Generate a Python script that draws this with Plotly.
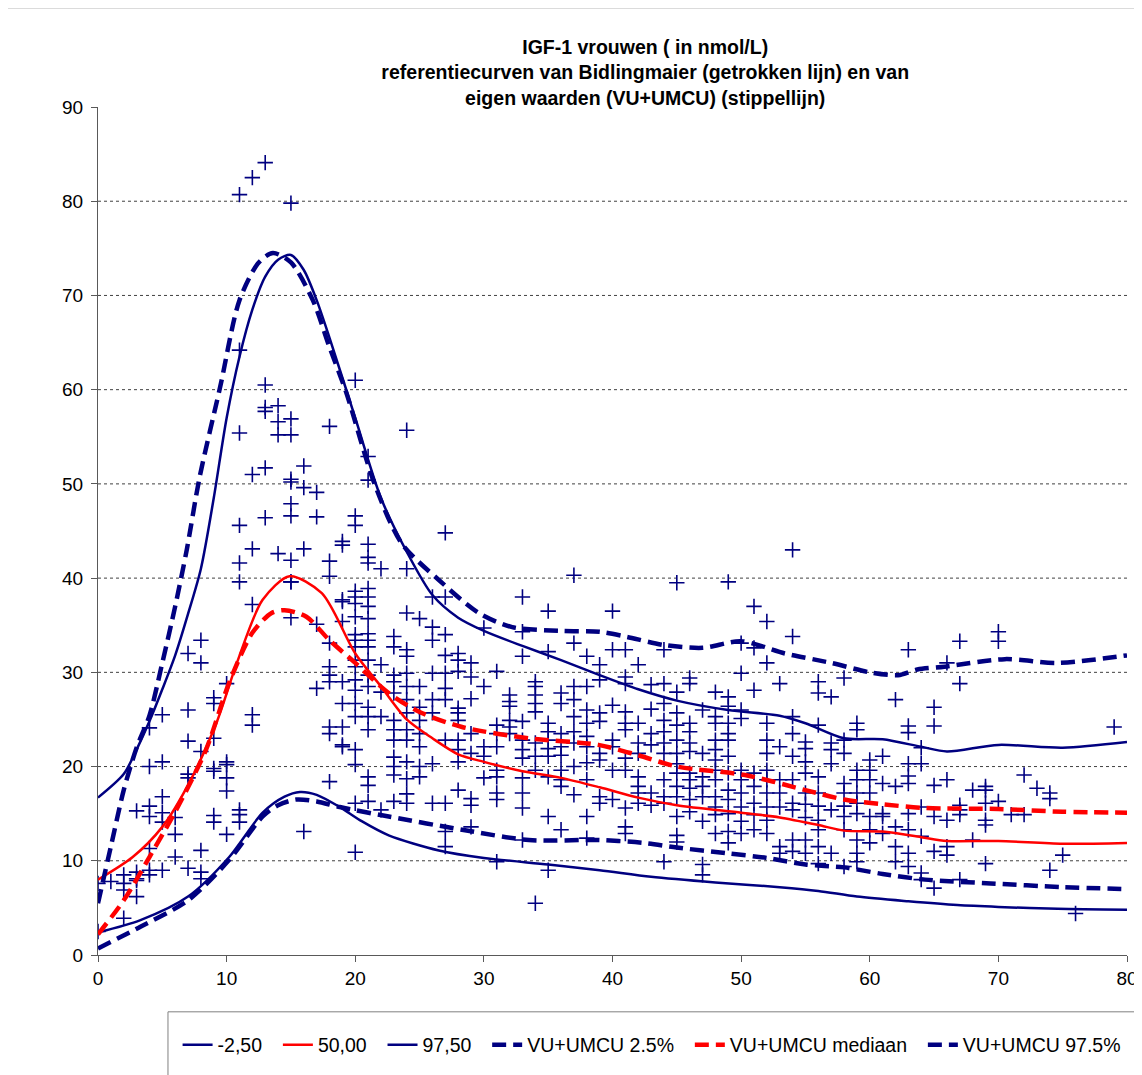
import plotly.graph_objects as go

NAVY = "#000080"
RED = "#FF0000"

# reference curves (Bidlingmaier), solid
bid_025_age = [0, 3.3, 7, 10.2, 12.8, 14.5, 15.7, 17, 18.8, 20.5, 22.6, 26.5, 30, 35, 39, 43, 48, 53, 56, 59, 63, 66.8, 70, 74.6, 80]
bid_025_val = [2.4, 3.7, 6.2, 10.4, 15.1, 16.8, 17.3, 17.0, 15.7, 14.2, 12.7, 11.1, 10.3, 9.6, 9.0, 8.3, 7.7, 7.2, 6.8, 6.2, 5.7, 5.3, 5.1, 4.9, 4.8]

bid_50_age = [0, 2.7, 5, 7.1, 9.2, 10.8, 12.8, 14.9, 17.4, 20, 22, 24, 26, 28, 30, 33, 36, 39, 42, 45, 50, 53, 56, 58, 61, 64, 66, 70, 75, 80]
bid_50_val = [8.0, 10.4, 13.6, 18.3, 24.6, 31.0, 37.7, 40.2, 38.4, 32.0, 28.5, 25.0, 23.0, 21.3, 20.5, 19.5, 18.8, 17.8, 16.7, 15.9, 15.1, 14.6, 13.8, 13.2, 13.1, 12.5, 12.1, 12.1, 11.8, 11.9]

bid_975_age = [0, 2, 3, 4, 5, 6, 7, 8, 9, 10, 11, 12, 13, 14, 15, 16, 17, 18, 20, 22, 24, 26, 28, 30, 33, 36, 39, 42, 45, 49, 53, 55, 58, 61, 64, 66, 70, 75, 80]
bid_975_val = [16.7, 19.2, 21.8, 24.8, 28.2, 31.8, 36.2, 41.0, 48.5, 57.0, 63.5, 68.5, 72.0, 73.8, 74.3, 72.7, 69.5, 65.5, 57.0, 48.5, 42.8, 38.2, 35.8, 34.4, 32.8, 31.3, 29.7, 28.2, 27.0, 26.0, 25.4, 24.6, 23.0, 22.9, 22.1, 21.6, 22.3, 22.0, 22.6]

# own values (VU+UMCU), dashed
vu_025_age = [0, 3.3, 7, 10.2, 12.8, 14, 15.4, 17, 18.8, 22.6, 28.3, 33.5, 38.9, 42.4, 45, 48.9, 52, 55, 58, 61, 64.3, 69.4, 75, 80]
vu_025_val = [0.7, 3.0, 5.8, 10.1, 14.7, 15.9, 16.5, 16.3, 15.7, 14.7, 13.3, 12.2, 12.2, 11.9, 11.4, 10.8, 10.3, 9.6, 9.3, 8.6, 8.0, 7.6, 7.2, 7.0]

vu_50_age = [0, 2, 4, 6, 8.4, 10.2, 12, 13.5, 14.5, 16.2, 18, 20, 22.6, 25, 28.3, 33.5, 38.9, 42, 45, 50.3, 55, 58, 61, 64.3, 70, 75, 80]
vu_50_val = [2.2, 5.8, 10.4, 15.2, 21.8, 28.9, 34.2, 36.3, 36.6, 35.9, 33.4, 31.0, 27.8, 25.8, 24.2, 23.0, 22.3, 21.2, 20.0, 19.1, 17.5, 16.5, 16.0, 15.6, 15.5, 15.2, 15.1]

vu_975_age = [0, 1, 2, 3, 4, 5, 6, 6.9, 7.9, 9.5, 11, 12.5, 13.6, 15, 16.7, 18, 19.3, 21.5, 23.6, 26.5, 29.6, 32.2, 36, 39, 41, 44, 47, 50, 53.4, 57, 60, 62.2, 63.7, 65.8, 70.5, 74.6, 80]
vu_975_val = [5.5, 11.5, 17.5, 22.0, 25.4, 31.0, 37.0, 43.0, 50.7, 60.3, 69.5, 73.5, 74.5, 73.5, 69.5, 64.5, 59.7, 50.0, 43.7, 39.8, 36.3, 34.8, 34.4, 34.3, 33.8, 32.9, 32.6, 33.3, 32.0, 31.0, 30.0, 29.7, 30.3, 30.6, 31.4, 31.0, 31.8]

# measured IGF-1 values (nmol/L), grouped by age in years
pt_ages = list(range(0, 77)) + [79]
pt_vals = [
    [2.5, 7.6],
    [7.8],
    [8.5, 7.6, 6.9, 3.9],
    [15.3, 8.8, 8.1, 7.9, 6.2],
    [24.1, 20.0, 15.8, 14.7, 11.3, 9.0, 8.5],
    [25.5, 20.5, 16.8, 15.1, 14.1, 9.0],
    [14.6, 12.8, 10.4],
    [32.0, 26.0, 22.7, 19.2, 18.8, 9.2],
    [33.4, 31.0, 21.6, 11.1, 8.8, 8.1],
    [27.3, 26.7, 23.0, 19.8, 19.5, 14.8, 14.1],
    [28.8, 20.5, 20.2, 18.8, 17.4, 12.8],
    [80.7, 64.2, 55.4, 45.6, 41.6, 39.6, 15.4, 14.9, 14.1],
    [82.5, 51.0, 43.1, 37.2, 25.5, 24.4],
    [84.1, 60.5, 58.1, 57.7, 51.7, 46.4],
    [58.3, 56.6, 55.2, 42.6],
    [79.8, 56.9, 55.2, 50.5, 50.2, 47.9, 46.6, 41.9, 39.6, 39.6, 35.8],
    [51.9, 49.6, 43.1, 13.1],
    [49.1, 46.5, 35.1, 28.3],
    [56.1, 41.8, 40.2, 33.1, 30.6, 29.7, 29.0, 24.2, 23.5, 18.4],
    [43.5, 43.9, 37.7, 37.5, 35.4, 29.0, 26.7, 24.2, 22.3, 22.1],
    [61.0, 46.6, 45.6, 38.6, 38.0, 37.3, 35.9, 34.0, 33.4, 32.7, 31.3, 30.6, 29.2, 28.1, 26.7, 25.3, 21.8, 20.2, 16.1, 10.9],
    [52.9, 50.4, 43.6, 42.2, 41.6, 38.9, 38.0, 37.0, 35.7, 34.1, 33.4, 32.7, 31.3, 29.7, 28.5, 26.3, 25.3, 23.9, 18.9, 18.0, 16.3],
    [41.0, 30.8, 27.9, 25.3, 15.4],
    [33.8, 32.7, 29.7, 29.0, 27.8, 24.9, 23.9, 22.8, 21.0, 20.0, 19.1, 16.3],
    [55.7, 41.0, 36.3, 32.4, 31.7, 29.9, 28.5, 27.1, 25.7, 23.9, 22.8, 20.5, 18.7, 17.1, 16.1],
    [35.7, 28.5, 26.3, 24.9, 23.5, 22.1, 20.0, 18.9],
    [38.0, 34.8, 33.4, 29.9, 27.1, 25.7, 20.3, 16.1],
    [44.8, 38.0, 34.0, 31.8, 29.9, 28.3, 27.1, 22.8, 16.1, 13.1, 11.5],
    [32.0, 31.3, 30.1, 26.2, 25.7, 24.9, 22.8, 21.8, 20.5, 17.5],
    [31.0, 29.5, 27.2, 23.5, 21.4, 16.6, 15.9, 13.6],
    [34.7, 28.5, 22.1, 21.1, 18.8],
    [30.1, 24.4, 23.5, 22.1, 19.6, 18.9, 17.2, 16.5, 9.9],
    [27.6, 26.9, 26.4, 24.9, 24.2, 23.5],
    [38.0, 34.3, 31.7, 24.8, 22.8, 21.8, 20.9, 18.8, 17.2, 15.6, 12.2],
    [29.0, 28.5, 27.6, 26.7, 25.8, 22.5, 21.1, 19.6, 5.5],
    [36.5, 32.2, 24.6, 23.7, 22.8, 21.9, 21.1, 18.9, 14.7, 9.0],
    [27.8, 26.7, 23.5, 22.1, 21.2, 19.6, 18.6, 17.9, 13.3],
    [40.3, 33.1, 28.5, 27.1, 25.3, 23.7, 22.5, 20.0, 17.0],
    [31.7, 28.5, 26.0, 24.6, 23.2, 22.1, 20.4, 18.6, 14.7, 12.4],
    [30.8, 29.2, 25.7, 24.8, 21.4, 20.7, 16.8, 16.1],
    [36.5, 32.4, 26.5, 22.8, 22.1, 19.6, 16.5],
    [32.4, 29.5, 28.8, 25.8, 24.6, 23.9, 20.9, 19.6, 15.6, 13.6, 12.9],
    [30.8, 24.6, 22.5, 21.4, 18.9, 17.9, 17.2, 16.1],
    [28.7, 26.1, 23.5, 22.3, 17.2, 15.9],
    [32.4, 28.8, 26.7, 24.9, 23.7, 22.5, 21.4, 18.6, 16.8, 16.1, 9.9],
    [39.5, 27.9, 25.7, 24.4, 22.8, 21.4, 20.3, 19.3, 17.9, 16.8, 14.7, 12.7, 12.0],
    [29.4, 28.8, 24.6, 23.7, 22.5, 21.6, 19.3, 18.6, 17.7, 16.5, 15.2],
    [26.0, 21.4, 18.9, 17.9, 16.8, 14.2, 9.6, 8.5],
    [27.9, 25.3, 24.6, 22.8, 21.8, 20.7, 19.6, 18.6, 16.8, 15.7, 14.9, 12.9],
    [39.6, 27.4, 26.4, 24.6, 23.5, 22.8, 21.1, 19.3, 17.5, 16.5, 15.0, 13.1, 11.9],
    [33.1, 29.9, 26.0, 25.1, 19.6, 18.6, 17.2, 15.7, 14.2, 12.9],
    [37.0, 32.6, 28.1, 19.3, 17.9, 16.1, 14.9, 13.3],
    [35.4, 31.0, 24.6, 22.8, 21.4, 19.6, 18.6, 17.2, 15.7, 14.3, 12.9],
    [28.8, 22.1, 18.6, 17.2, 15.7, 11.5, 10.8],
    [43.0, 33.8, 25.3, 23.5, 21.1, 18.6, 16.1, 15.4, 12.2, 11.0],
    [22.6, 21.9, 20.5, 19.3, 17.2, 16.0, 14.6, 12.2, 10.8],
    [29.0, 27.8, 24.4, 18.9, 17.2, 15.8, 14.3, 13.3, 11.5, 9.7],
    [27.4, 22.5, 21.8, 20.3, 15.4, 10.8],
    [29.4, 22.8, 21.4, 18.2, 17.2, 15.8, 14.7, 13.3, 9.4],
    [24.6, 23.9, 19.6, 18.6, 17.2, 16.1, 15.0, 12.2, 10.8, 9.9],
    [20.7, 19.6, 18.6, 17.2, 14.7, 13.3, 11.9],
    [21.1, 18.2, 15.0, 14.7, 12.9],
    [27.1, 17.9, 13.6, 11.5, 9.9],
    [32.4, 24.3, 23.6, 20.3, 19.0, 18.2, 15.0, 13.3, 10.8, 9.4],
    [22.0, 20.3, 15.7, 12.6, 8.7, 8.0],
    [26.3, 24.3, 18.0, 14.7, 11.0, 7.1],
    [31.0, 18.6, 14.3, 11.5, 10.6],
    [33.3, 28.8, 15.9, 15.4, 14.9, 8.0],
    [17.5, 12.2],
    [17.9, 17.5, 16.1, 14.3, 13.8, 9.7],
    [34.3, 33.3, 16.3],
    [14.9],
    [19.1, 14.9],
    [17.7],
    [17.2, 16.6, 9.0],
    [10.6],
    [4.4],
    [24.2],
]

xs, ys = [], []
for age, vals in zip(pt_ages, pt_vals):
    for v in vals:
        xs.append(age)
        ys.append(v)

fig = go.Figure()

fig.add_trace(go.Scatter(
    x=xs, y=ys, mode="markers", showlegend=False,
    marker=dict(symbol="cross-thin", size=11, line=dict(color=NAVY, width=1.6), color=NAVY),
))

dash = "14px,7px"
pad = "\u00a0\u00a0"
curves = [
    ("-2,50", bid_025_age, bid_025_val, NAVY, "solid", 2.5),
    ("50,00", bid_50_age, bid_50_val, RED, "solid", 2.5),
    ("97,50", bid_975_age, bid_975_val, NAVY, "solid", 2.5),
    ("VU+UMCU 2.5%", vu_025_age, vu_025_val, NAVY, dash, 4.5),
    ("VU+UMCU mediaan", vu_50_age, vu_50_val, RED, dash, 4.5),
    ("VU+UMCU 97.5%", vu_975_age, vu_975_val, NAVY, dash, 4.5),
]
for name, ax, av, col, ds, w in curves:
    fig.add_trace(go.Scatter(
        x=ax, y=av, mode="lines", name=name + pad,
        line=dict(color=col, dash=ds, width=w, shape="spline", smoothing=0.8),
    ))

# dotted horizontal gridlines (none at the top edge)
for g in range(10, 90, 10):
    fig.add_shape(type="line", xref="paper", yref="y", x0=0, x1=1, y0=g, y1=g,
                  line=dict(color="#404040", width=1, dash="dot"), layer="below")

# chart area border and legend box
fig.add_shape(type="rect", xref="paper", yref="paper",
              x0=-0.089, x1=1.2, y0=-0.5, y1=1.117,
              line=dict(color="#808080", width=1))
fig.add_shape(type="rect", xref="paper", yref="paper",
              x0=0.068, x1=1.2, y0=-0.2, y1=-0.067,
              line=dict(color="#808080", width=1), fillcolor="white")

axis_font = dict(family="Liberation Sans, Arial", size=19, color="black")
fig.update_layout(
    width=1142, height=1075,
    margin=dict(l=90, r=15, t=99, b=128),
    paper_bgcolor="white", plot_bgcolor="white",
    font=dict(family="Liberation Sans, Arial", color="black"),
    title=dict(
        text="<b>IGF-1 vrouwen ( in nmol/L)<br>referentiecurven van Bidlingmaier (getrokken lijn) en van<br>eigen waarden (VU+UMCU) (stippellijn)</b>",
        x=0.558, xanchor="center", xref="container",
        y=1 - 46 / 1075, yanchor="middle", yref="container",
        font=dict(size=19.5, family="Liberation Sans, Arial", color="black"),
    ),
    xaxis=dict(range=[0, 80], dtick=10, showgrid=False, zeroline=False,
               showline=True, linecolor="#595959", linewidth=1,
               ticks="outside", ticklen=6, tickcolor="#595959", tickfont=axis_font),
    yaxis=dict(range=[0, 90], dtick=10, showgrid=False, zeroline=False,
               showline=True, linecolor="#595959", linewidth=1,
               ticks="outside", ticklen=6, tickcolor="#595959", tickfont=axis_font,
               ticklabelstandoff=4),
    legend=dict(orientation="h", xref="container", yref="container",
                x=0.1485, xanchor="left", y=0.0353, yanchor="middle",
                font=dict(family="Liberation Sans, Arial", size=19.5, color="black"),
                bgcolor="rgba(0,0,0,0)", itemwidth=30),
)

fig.write_html("out.html")
